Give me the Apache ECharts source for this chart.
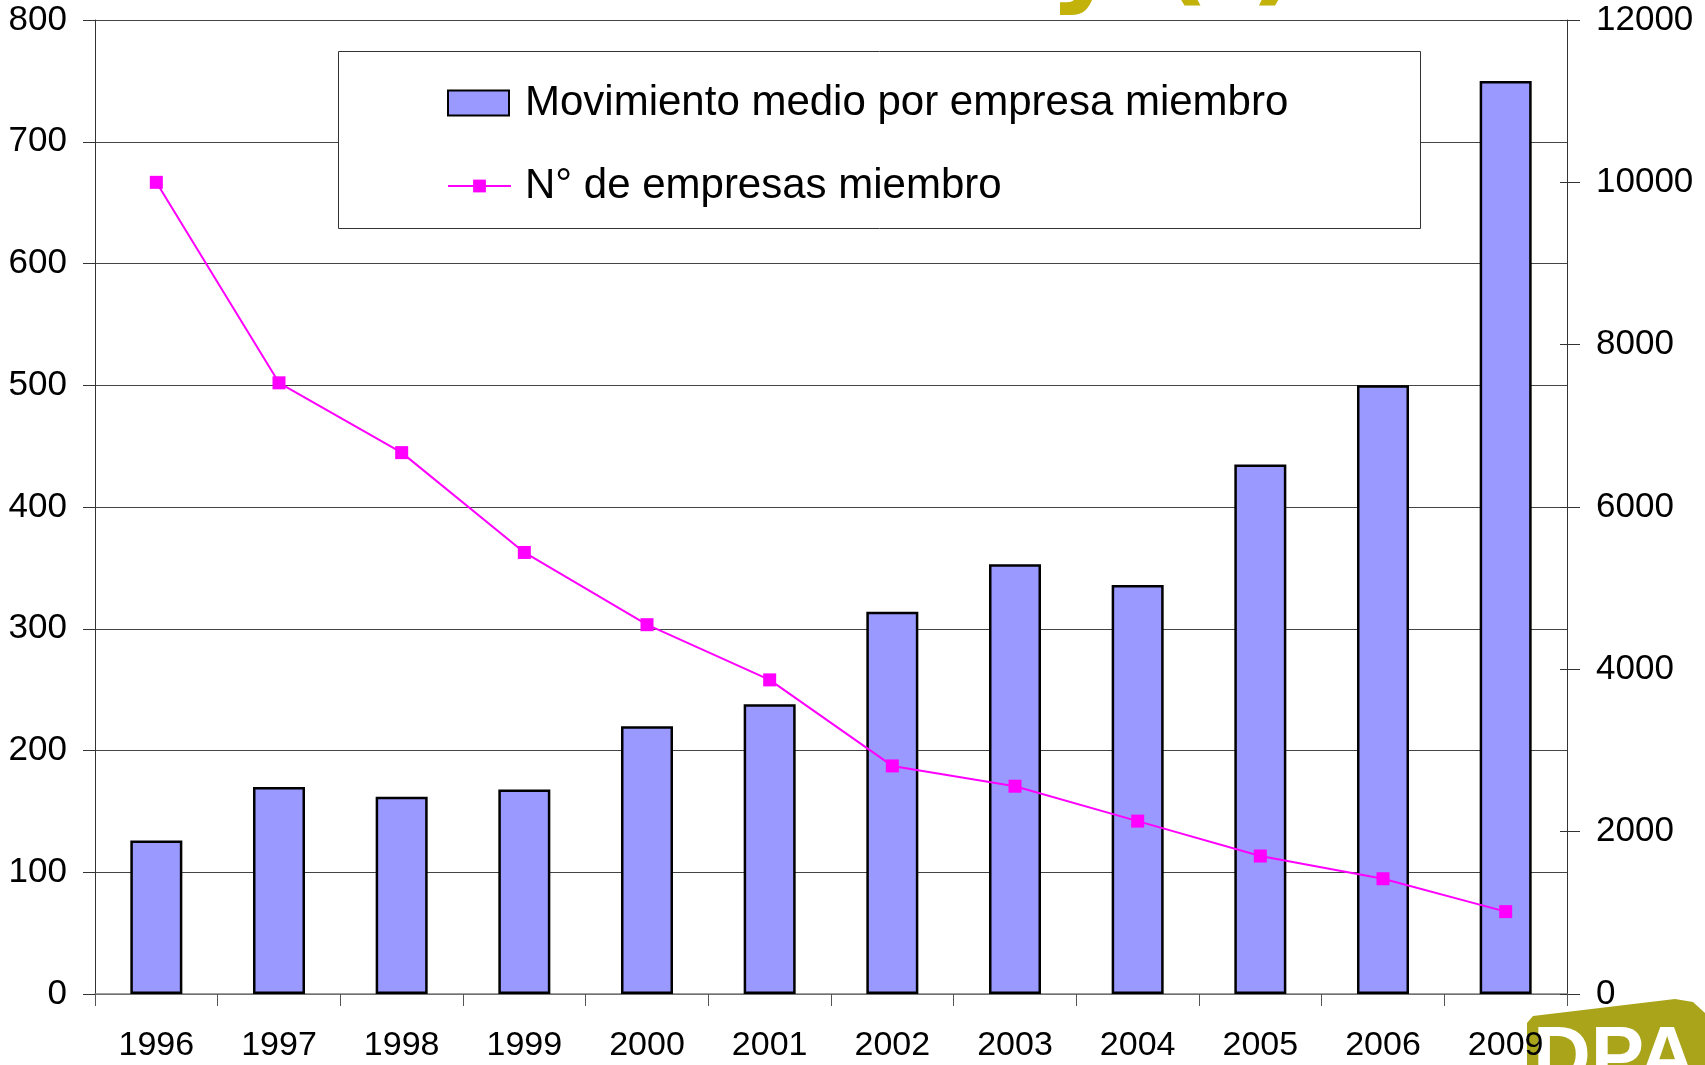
<!DOCTYPE html>
<html>
<head>
<meta charset="utf-8">
<script src="https://cdn.jsdelivr.net/npm/echarts@6/dist/echarts.min.js"></script>
<style>
html,body{margin:0;padding:0;background:#fff;}
#chart{width:1705px;height:1065px;}
</style>
</head>
<body>
<div id="chart"></div>
<script>
const categories = ['1996','1997','1998','1999','2000','2001','2002','2003','2004','2005','2006','2009'];
const movimientoMedio = [126, 170, 162, 168, 220, 238, 314, 353, 336, 435, 500, 750];
const numEmpresas = [10000, 7530, 6670, 5440, 4550, 3870, 2810, 2560, 2130, 1700, 1420, 1015];
const barName = 'Movimiento medio por empresa miembro';
const lineName = 'N° de empresas miembro';
const titleFragment = 'y (I)';
const logoText = 'DPA';

const FONT = 'Liberation Sans';
const chart = echarts.init(document.getElementById('chart'));
chart.setOption({
  animation: false,
  backgroundColor: '#fff',
  grid: { left: 95, right: 138, top: 20, bottom: 71, containLabel: false },
  graphic: [
    { type: 'text', z: 1, style: { text: titleFragment, x: 1049, y: -38, font: 'bold 110px "DejaVu Sans"', fill: '#C2B20A', verticalAlign: 'middle', align: 'left' } },
    { type: 'polygon', z: -1, zlevel: 0, shape: { points: [[1527,1065],[1527,1023],[1533,1016],[1675,999],[1693,1002],[1705,1013],[1705,1065]] }, style: { fill: '#A9A41A' } },
    { type: 'text', z: -1, style: { text: logoText, x: 1533, y: 1060, font: 'bold 80px "Liberation Sans"', fill: '#fff', verticalAlign: 'middle', align: 'left' } },
    { type: 'rect', z: 2, shape: { x: 338.5, y: 51.5, width: 1082, height: 177 }, style: { fill: '#fff', stroke: '#333', lineWidth: 1 } }
  ],
  legend: [
    {
      data: [{ name: barName, icon: 'rect' }], left: 447, top: 82, padding: 0, orient: 'vertical',
      itemWidth: 61, itemHeight: 25, z: 5,
      itemStyle: { color: '#9999FF', borderColor: '#000', borderWidth: 2 },
      textStyle: { fontSize: 42, fontFamily: FONT, color: '#000', padding: [0,0,0,11] }
    },
    {
      data: [lineName], left: 447, top: 165, padding: 0, orient: 'vertical',
      itemWidth: 63, itemHeight: 16, z: 5,
      lineStyle: { width: 2 },
      textStyle: { fontSize: 42, fontFamily: FONT, color: '#000', padding: [0,0,0,9] }
    }
  ],
  xAxis: {
    type: 'category', data: categories, boundaryGap: true,
    axisLine: { lineStyle: { color: '#808080', width: 1.5 } },
    axisTick: { show: true, length: 12, lineStyle: { color: '#555', width: 1 } },
    axisLabel: { fontSize: 34, fontFamily: FONT, color: '#000', margin: 35, interval: 0 },
    splitLine: { show: false }
  },
  yAxis: [
    {
      type: 'value', min: 0, max: 800, interval: 100, position: 'left',
      axisLine: { show: true, lineStyle: { color: '#333', width: 1 } },
      axisTick: { show: true, length: 12, lineStyle: { color: '#333' } },
      axisLabel: { fontSize: 35, fontFamily: FONT, color: '#000', margin: 28 },
      splitLine: { show: true, lineStyle: { color: '#444', width: 1 } }
    },
    {
      type: 'value', min: 0, max: 12000, interval: 2000, position: 'right',
      axisLine: { show: true, lineStyle: { color: '#333', width: 1 } },
      axisTick: { show: true, length: 13, lineStyle: { color: '#333' } },
      axisLabel: { fontSize: 35, fontFamily: FONT, color: '#000', margin: 29, formatter: function (v) { return String(v); } },
      splitLine: { show: false }
    },
    {
      type: 'value', min: 0, max: 12000, interval: 2000, position: 'right',
      axisLine: { show: false },
      axisTick: { show: true, inside: true, length: 7, lineStyle: { color: '#333' } },
      axisLabel: { show: false },
      splitLine: { show: false }
    }
  ],
  series: [
    {
      name: barName, type: 'bar', data: movimientoMedio, yAxisIndex: 0, barWidth: 52, z: 2,
      itemStyle: { color: '#9999FF', borderColor: '#000', borderWidth: 2.5 }
    },
    {
      name: lineName, type: 'line', data: numEmpresas, yAxisIndex: 1, z: 3,
      symbol: 'rect', symbolSize: 13, showSymbol: true,
      lineStyle: { color: '#FF00FF', width: 2 },
      itemStyle: { color: '#FF00FF' }
    }
  ]
});
</script>
</body>
</html>
